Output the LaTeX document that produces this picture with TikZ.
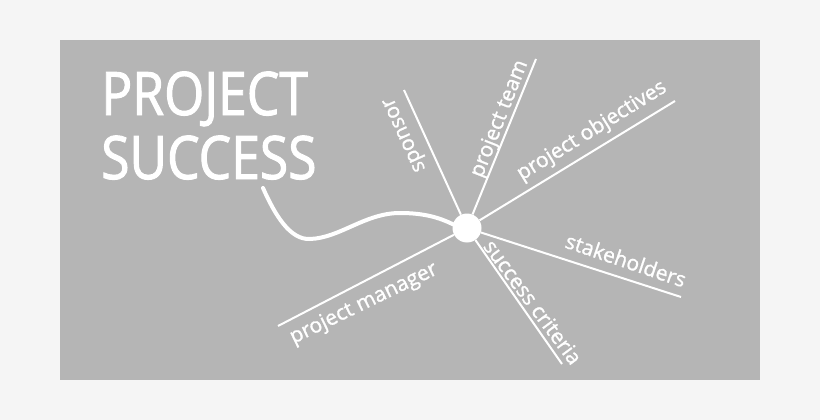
\documentclass[tikz,border=0pt]{standalone}
\usepackage{fontspec}
\newfontfamily\lblfont[FakeBold=1.2]{Open Sans}
\newfontfamily\titlefont[FakeStretch=0.86,FakeBold=1.6]{Open Sans}
\definecolor{outerbg}{RGB}{245,245,245}
\definecolor{panel}{RGB}{181,181,181}
\begin{document}
\begin{tikzpicture}[x=1pt,y=-1pt,
  spoke/.style={draw=white, line width=2pt},
  lbl/.style={text=white, font=\lblfont\fontsize{21}{21}\selectfont, inner sep=0pt},
  ttl/.style={text=white, font=\titlefont\fontsize{60}{60}\selectfont, inner sep=0pt, anchor=base west},
  hubstyle/.style={circle, fill=white, minimum size=29pt, inner sep=0pt}]
\fill[outerbg] (0,0) rectangle (820,420);
\useasboundingbox (0,0) rectangle (820,420);
\fill[panel] (60,40) rectangle (760,380);
\node[ttl] (t1) at (101,115) {PROJECT};
\node[ttl] (t2) at (101,179) {SUCCESS};
\node[hubstyle] (hub) at (467,228) {};
\coordinate (esp) at (404,90);
\coordinate (ept) at (536,59);
\coordinate (epo) at (675,101);
\coordinate (esh) at (681,297);
\coordinate (esc) at (562,364);
\coordinate (epm) at (278,326);
\draw[spoke] (hub) -- (esp);
\draw[spoke] (hub) -- (ept);
\draw[spoke] (hub) -- (epo);
\draw[spoke] (hub) -- (esh);
\draw[spoke] (hub) -- (esc);
\draw[spoke] (hub) -- (epm);
\coordinate (cs) at (263,188);
\draw[white, line width=4pt, line cap=round] (cs) .. controls (275,215) and (290,240) .. (310,239) .. controls (340,238) and (365,213) .. (400,213) .. controls (425,213) and (440,218) .. (hub.165);
\node[lbl, rotate=114.5] (lsp) at (406,134) {sponsor};
\node[lbl, rotate=68.5] (lpt) at (500,119) {project team};
\node[lbl, rotate=31.7] (lpo) at (592,131) {project objectives};
\node[lbl, rotate=-18.7] (lsh) at (626,260) {stakeholders};
\node[lbl, rotate=-53.4] (lsc) at (533,302) {success criteria};
\node[lbl, rotate=25.9] (lpm) at (364,304) {project manager};
\end{tikzpicture}
\end{document}
